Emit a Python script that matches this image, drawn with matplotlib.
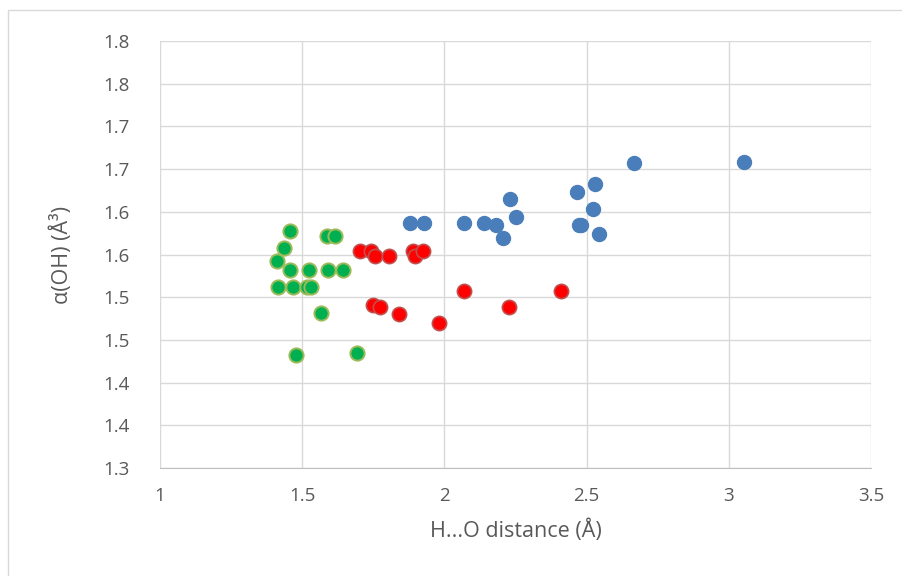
import matplotlib
matplotlib.use("Agg")
import matplotlib.pyplot as plt
from matplotlib.patches import Rectangle

plt.rcParams['font.family'] = ['Open Sans', 'DejaVu Sans']

# Blue series
blue_x = [1.879, 1.929, 2.070, 2.139, 2.181, 2.206, 2.230, 2.251, 2.468, 2.473, 2.481,
          2.522, 2.530, 2.544, 2.666, 3.053]
blue_y = [1.5865, 1.5865, 1.5865, 1.5865, 1.584, 1.569, 1.6146, 1.594, 1.6235, 1.584, 1.584,
          1.603, 1.6325, 1.5744, 1.657, 1.658]

# Red series
red_x = [1.703, 1.742, 1.756, 1.806, 1.889, 1.897, 1.924, 1.748, 1.774, 1.839, 1.982,
         2.070, 2.228, 2.409]
red_y = [1.5537, 1.5537, 1.5486, 1.5486, 1.5537, 1.5486, 1.5537, 1.4909, 1.4889, 1.480,
         1.4694, 1.5069, 1.4889, 1.5069]

# Green series
green_x = [1.458, 1.586, 1.616, 1.435, 1.410, 1.458, 1.524, 1.590, 1.643, 1.414, 1.467,
           1.516, 1.530, 1.566, 1.477, 1.693]
green_y = [1.5772, 1.5717, 1.5717, 1.5573, 1.542, 1.5318, 1.5318, 1.5318, 1.5318, 1.5123,
           1.5123, 1.5116, 1.5116, 1.4811, 1.4323, 1.435]

x_ticks = [1, 1.5, 2, 2.5, 3, 3.5]
x_tick_labels = ["1", "1.5", "2", "2.5", "3", "3.5"]
y_ticks = [1.30, 1.35, 1.40, 1.45, 1.50, 1.55, 1.60, 1.65, 1.70, 1.75, 1.80]
y_tick_labels = ["1.3", "1.4", "1.4", "1.5", "1.5", "1.6", "1.6", "1.7", "1.7", "1.8", "1.8"]

W, H = 903, 576
fig = plt.figure(figsize=(W / 100, H / 100), dpi=100)
ax = fig.add_axes([160 / W, 1 - 468 / H, (871 - 160) / W, (468 - 41) / H])

# outer chart border
fig.patches.append(Rectangle((8 / W, -0.1), 1.2, 1 - 10 / H + 0.1, transform=fig.transFigure,
                             fill=False, edgecolor='#d9d9d9', linewidth=1.0))

ax.scatter(blue_x, blue_y, s=105, color='#4a7ebb', edgecolors='#4a7ebb', linewidths=0.8, zorder=3)
ax.scatter(red_x, red_y, s=105, color='#ff0000', edgecolors='#c0504d', linewidths=1.2, zorder=4)
ax.scatter(green_x, green_y, s=105, color='#00b050', edgecolors='#9bbb59', linewidths=1.4, zorder=5)

ax.set_xlim(1, 3.5)
ax.set_ylim(1.3, 1.8)
ax.set_xticks(x_ticks)
ax.set_xticklabels(x_tick_labels)
ax.set_yticks(y_ticks)
ax.set_yticklabels(y_tick_labels)
ax.grid(True, color='#d9d9d9', linewidth=1.0, zorder=0)
ax.set_axisbelow(True)
for side in ['top', 'right', 'left']:
    ax.spines[side].set_visible(False)
ax.spines['bottom'].set_color('#bfbfbf')
ax.tick_params(axis='both', length=0, labelsize=13.5, colors='#595959')
ax.tick_params(axis='x', pad=14)
ax.tick_params(axis='y', pad=22)

ax.set_xlabel("H...O distance (Å)", fontsize=15.5, color='#595959', labelpad=10)
ax.set_ylabel("α(OH) (Å³)", fontsize=15.5, color='#595959', labelpad=22)

fig.savefig("out.png", dpi=100)
